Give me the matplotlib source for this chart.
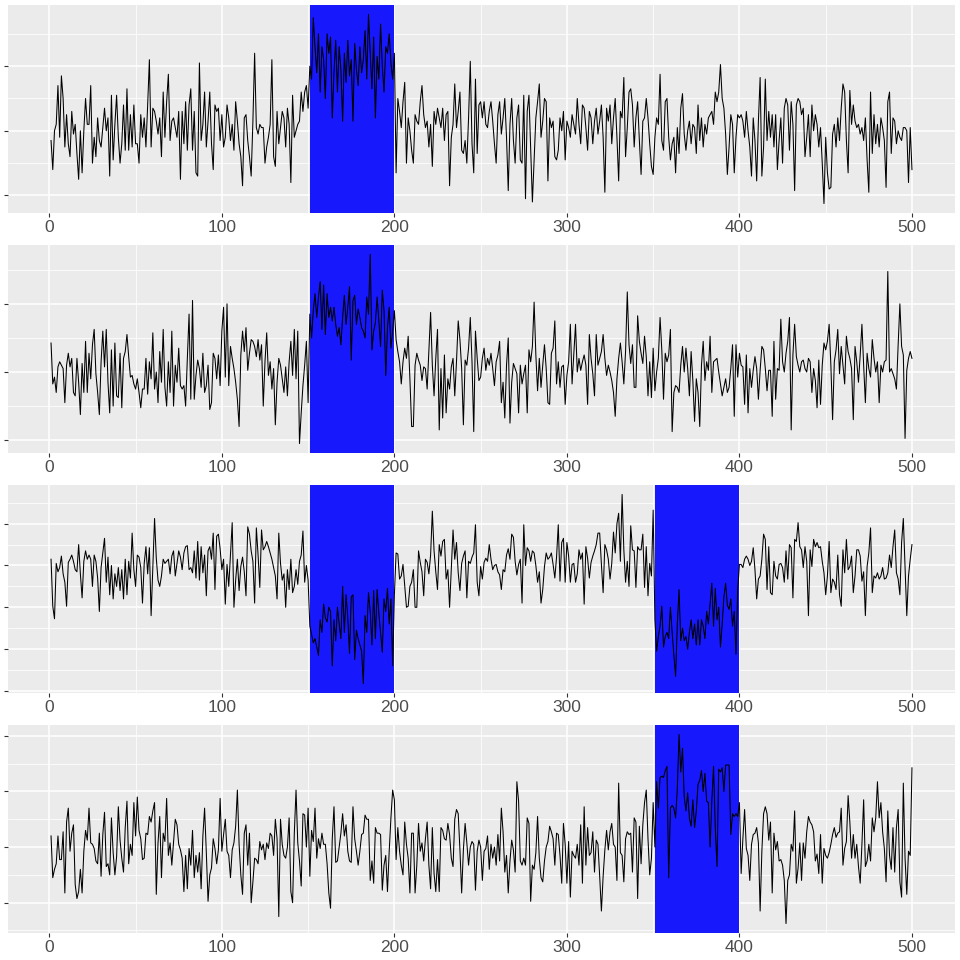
#!/usr/bin/env python3
import numpy as np
import matplotlib
matplotlib.use("Agg")
import matplotlib.pyplot as plt
from matplotlib.ticker import MultipleLocator

# values (index 1..500)
series_1 = [
    -0.3, -1.2, 0.0, 0.2, 1.4, -0.2, 1.7, 1.0, -0.5, 0.5,
    -0.4, -0.8, 0.6, -0.1, 0.2, -0.7, -1.5, 0.0, -1.3, 0.0,
    1.0, 0.2, 0.2, 1.4, -1.0, -0.2, -0.8, 0.4, -0.3, -0.5,
    0.1, 0.7, 0.0, 0.4, -1.4, 1.1, -0.9, 0.2, 1.1, -0.2,
    -1.0, -0.4, 0.8, -0.6, 1.3, -0.6, 0.5, -0.5, 0.8, -0.4,
    -0.4, -1.0, 0.5, -0.2, 0.4, -0.5, 0.8, 2.2, -0.5, 0.7,
    0.6, 0.3, -0.1, 0.4, -0.8, 1.2, -0.2, 0.9, 1.75, -0.3,
    0.3, 0.4, 0.1, -0.2, 0.6, -1.5, 0.6, -0.4, 0.9, -0.6,
    0.8, 1.3, -0.6, 0.6, -1.3, -1.4, 2.1, -0.3, 0.2, 1.2,
    -0.5, 0.3, 1.2, -0.4, -1.2, 0.8, 0.6, 0.7, -0.3, 0.5,
    -0.5, -0.2, 0.8, 0.4, -0.3, 0.2, -0.6, 0.9, 0.3, -0.4,
    -0.8, -1.7, 0.4, 0.5, -0.3, -0.8, -1.4, 0.3, 2.4, 0.1,
    -0.1, 0.2, 0.1, 0.1, -1.0, -0.5, -0.2, 0.2, 2.2, -0.8,
    -1.1, 0.6, -0.4, 0.1, 0.6, 0.4, -0.5, 0.7, 0.2, -1.6,
    1.1, -0.2, 0.0, 0.2, 0.3, 1.2, 0.6, 1.2, 1.4, 0.7,
    2.0, 1.6, 3.5, 2.6, 1.8, 3.0, 1.2, 2.6, 2.2, 1.0,
    3.0, 2.4, 2.9, 0.4, 1.8, 2.8, 1.2, 2.6, 1.9, 0.3,
    2.4, 1.5, 2.8, 1.7, 2.2, 0.3, 2.7, 1.9, 1.4, 2.6,
    1.8, 2.2, 3.1, 1.6, 3.6, 2.4, 1.3, 2.9, 0.4, 2.3,
    1.6, 3.3, 2.0, 1.2, 2.6, 2.4, 3.0, 2.1, 1.6, 2.4,
    -1.3, 1.0, 0.6, 0.1, 0.9, 1.5, -1.0, 0.4, 0.0, -0.6,
    -1.0, 0.5, 0.3, 0.2, 0.9, 1.4, 0.5, 0.1, 0.3, -0.5,
    0.2, -1.1, 0.6, 0.2, 0.7, 0.4, 0.1, 0.7, -0.3, 0.5,
    0.6, -1.7, -0.2, 0.2, 1.45, 0.1, 0.6, 1.2, -0.6, -0.7,
    -0.3, -1.0, 0.4, 2.15, -0.4, -1.3, 1.6, -0.7, 0.8, 0.9,
    0.4, 0.9, 0.2, 0.1, 0.6, 0.9, 0.3, -0.4, -1.0, 0.5,
    0.9, -0.1, 0.4, 1.0, -0.2, -1.85, 0.2, 1.0, -0.3, -1.0,
    0.4, 0.8, -0.9, -1.0, 1.1, -2.1, 0.6, 1.1, -0.5, -2.2,
    -0.9, 0.4, 0.9, 1.45, -0.2, 0.3, 1.0, 0.9, -1.55, 0.4,
    0.1, 0.3, -0.8, -0.9, -0.6, 0.4, 0.0, 0.6, -0.9, 0.3,
    0.1, -0.2, 0.5, 0.2, -0.1, 1.0, 0.2, -0.4, 0.8, 0.7,
    0.1, -0.6, 0.6, 0.4, -0.4, 0.3, 0.7, -0.1, 0.3, 0.8,
    -0.2, -1.9, 0.7, 0.3, 0.8, -0.4, 0.4, 1.0, -0.2, -1.55,
    0.6, 0.4, 1.65, -0.8, 0.1, 1.2, 1.3, 0.8, -0.5, 0.4,
    0.9, -0.3, -1.35, 0.3, 0.4, 1.0, 0.4, -0.4, -1.1, -1.35,
    -0.2, 0.4, 0.2, 1.75, -0.3, -0.6, 0.9, 1.0, -0.2, -0.9,
    -0.4, -0.2, -1.3, 0.1, -0.7, 0.7, 1.15, -0.1, -0.6, 0.0,
    0.3, -0.4, 0.2, 0.1, -0.7, 0.8, -0.3, 0.4, -0.5, 0.2,
    -0.1, 0.4, 0.5, 0.6, 0.2, 1.2, 0.9, 1.2, 2.05, 1.0,
    0.7, -0.1, -1.35, -0.5, 0.5, 0.2, -1.3, -0.2, 0.5, 0.4,
    0.5, 0.3, -0.2, 0.6, 0.0, -0.5, -1.4, 0.4, -0.3, -1.55,
    0.3, 1.65, -1.4, -0.5, 1.6, -0.3, 0.6, -0.2, 0.5, -0.5,
    0.5, -1.2, -0.3, 0.4, -1.0, 0.7, 1.0, 0.8, -0.6, 0.9,
    0.2, -1.85, 0.8, 1.0, 0.9, 0.5, 0.7, -0.8, -0.2, 0.5,
    -0.8, 0.8, 0.0, 0.5, 0.2, -0.5, 0.1, -1.0, -2.25, -0.2,
    -1.3, -1.8, -1.75, -0.1, 0.2, -0.5, 0.4, -0.3, 0.7, 1.45,
    1.2, -0.3, -1.3, 1.25, 0.2, 0.8, 0.3, 0.1, 0.2, -0.1,
    0.1, -0.3, 0.4, -0.9, -1.9, 1.2, -0.7, 0.5, -0.4, 0.2,
    -0.5, 0.4, 0.1, -0.3, -1.75, 0.9, 1.2, -0.7, 0.4, 0.3,
    -0.4, 0.0, -0.2, -0.3, 0.1, 0.1, 0.0, -1.6, 0.1, -1.2,
]

series_2 = [
    0.85, -0.35, -0.15, -0.6, 0.15, 0.3, 0.2, 0.1, -0.9, 0.2,
    0.55, 0.15, 0.4, -0.6, -0.7, 0.4, -0.3, -1.25, 0.25, -0.6,
    0.9, -0.6, 0.55, -0.2, 0.8, 1.25, -0.05, -0.6, -1.25, 0.3,
    1.2, 0.15, 1.25, -0.3, -1.2, 0.65, -1.0, 0.85, -0.7, -0.75,
    0.55, -1.05, 0.4, 0.6, 1.1, 0.45, -0.15, -0.1, -0.35, -0.5,
    -0.2, -0.6, -1.05, -0.5, -0.5, 0.4, -0.65, 0.3, -0.2, 1.15,
    -0.5, 0.0, -0.9, 0.6, -0.3, 1.25, -0.45, -1.0, 0.3, -0.6,
    1.2, -1.0, 0.2, -0.3, 0.7, -0.4, -0.5, -0.4, -1.0, 0.4,
    1.7, -0.8, 2.1, -0.8, -0.1, 0.35, 0.1, -0.45, 0.55, -0.6,
    -0.4, 0.2, -1.1, -0.9, 0.55, 0.4, -0.2, 0.5, -0.4, 1.2,
    1.9, -0.15, 2.0, -0.4, 0.75, 0.4, 0.1, -0.3, -0.8, -1.6,
    0.5, 1.2, 0.6, 1.3, 0.05, 0.55, 0.95, 0.9, 0.75, 0.45,
    0.95, 0.35, 0.8, -1.0, 0.3, 1.15, -0.1, 0.3, -0.5, 0.1,
    -1.55, -0.3, 0.4, 0.2, -0.2, -0.6, 0.15, -0.7, 0.3, 0.9,
    -0.1, 1.25, -0.2, 1.2, -2.1, -1.2, -0.4, 0.2, 0.9, -0.9,
    1.7, 1.0, 1.8, 2.3, 1.6, 2.2, 2.65, 1.25, 2.55, 1.1,
    2.3, 1.6, 1.9, 1.5, 1.9, 1.4, 1.05, 1.3, 0.8, 1.6,
    2.25, 1.4, 1.9, 2.5, 0.35, 2.1, 2.25, 1.4, 1.85, 1.6,
    1.3, 1.2, 1.0, 2.2, 1.7, 3.45, 0.65, 1.2, 1.45, 2.2,
    1.5, 0.75, 2.4, 1.8, -0.1, 1.3, 1.9, 0.7, 1.2, 1.8,
    0.95, 0.6, 0.3, -0.35, 0.3, 0.7, 0.4, 1.05, -0.2, -1.6,
    -1.6, 0.2, 0.55, 0.35, 0.2, -0.25, 0.15, 0.1, -0.5, 0.6,
    1.75, 0.2, -0.7, 0.4, 1.25, -1.7, 0.1, -1.35, 0.5, -1.2,
    -0.2, -0.5, 0.15, 0.4, -0.7, 0.3, 1.5, 0.95, 0.1, -1.55,
    0.35, 0.2, 0.7, 1.6, 0.3, -1.75, 1.2, 0.4, -0.25, -0.15,
    0.4, 0.7, 0.05, 0.4, 0.2, 0.55, 0.1, -0.4, 0.3, 0.5,
    0.9, -0.9, -0.3, -1.35, 0.2, 1.0, -1.5, -0.3, 0.25, 0.1,
    -0.05, -1.2, 0.2, -0.35, -0.05, 0.2, -1.2, 0.65, 0.3, 0.75,
    2.05, 0.5, -0.55, 0.4, -0.45, 0.2, 0.8, 0.1, -0.9, -0.95,
    0.55, 0.7, 1.5, -0.35, 0.3, -0.45, 0.15, 0.2, -0.95, -0.1,
    0.3, 1.4, -0.35, 0.5, 1.4, 0.0, 0.4, 0.05, 0.3, 0.5,
    0.2, -0.95, 1.1, 0.4, -0.05, -0.7, 1.1, 0.2, 0.4, 0.6,
    1.1, 0.4, -0.1, 0.2, 0.0, -0.25, -0.6, -1.3, -0.2, 0.4,
    0.85, 0.3, -0.35, 0.6, 2.35, 0.8, 0.25, 0.8, -0.45, -0.45,
    1.65, 0.9, 0.55, 0.25, 1.05, 0.45, -0.7, 0.3, -0.75, 0.7,
    -0.55, 0.0, 0.4, 1.6, 0.65, -0.8, 0.55, 0.3, 0.5, 1.25,
    -1.75, -0.6, -0.4, -0.45, -0.6, 0.2, 0.75, 0.0, 0.7, 0.1,
    -0.7, 0.6, -0.25, -1.45, -0.2, -0.6, -1.6, 0.2, 0.9, -0.25,
    0.3, 0.05, 1.05, -0.6, 0.3, 0.35, 0.4, 0.0, -0.35, -0.7,
    -0.45, -0.2, -0.6, -0.45, 0.1, 0.8, -1.3, 0.8, -0.15, 0.55,
    0.2, 0.15, -0.95, 0.5, -1.2, 0.1, -0.45, 0.05, 0.45, 0.1,
    -0.8, 0.05, 0.75, 0.65, 0.1, -0.55, 0.05, 0.05, -1.3, 0.9,
    -0.8, 0.1, 0.05, 1.55, 0.3, 0.0, 0.55, 0.9, 1.6, -1.7,
    0.5, 1.4, 0.45, 0.2, 0.0, 0.3, 0.35, 0.1, 0.0, 0.4,
    0.3, -0.6, 0.1, -0.25, -1.05, 0.35, -0.95, 0.2, 0.85, 0.65,
    0.9, 1.4, 0.2, -1.4, 0.3, 0.65, 1.25, -0.05, 0.75, 0.2,
    -0.35, 1.05, 0.6, 0.4, 0.1, -1.4, 0.75, 0.3, -0.3, 0.5,
    1.4, 0.2, -0.9, 0.55, 0.1, -0.15, 0.95, 0.4, 0.0, 0.3,
    -0.9, 0.2, 0.0, 0.3, 0.35, 2.95, 0.0, 0.1, -0.05, -0.2,
    -0.5, 0.8, 2.0, 0.75, 0.5, -1.95, 0.05, 0.4, 0.6, 0.4,
]

series_3 = [
    0.3, -1.95, -2.55, 0.1, -0.3, -0.1, 0.45, -0.4, -0.8, -1.95,
    0.15, 0.3, 0.5, 0.2, -0.2, -0.3, 1.0, -0.4, -1.55, 0.2,
    0.7, 0.3, 0.5, 0.3, -1.0, 0.5, 0.2, -0.6, -2.2, -0.1,
    0.6, 1.3, -0.8, 0.4, -1.4, 0.0, -1.6, -0.4, -1.0, -0.1,
    -1.2, -0.2, -1.6, 0.3, -1.4, 0.2, -0.6, 1.55, -0.2, -1.0,
    0.5, 0.4, -0.1, -1.8, 0.1, 0.9, -0.4, 0.85, -2.4, 0.0,
    2.25, 0.35, -0.7, -1.0, -0.5, 0.3, 0.1, 0.2, 0.3, -0.4,
    0.45, 0.7, -0.5, 0.1, 0.7, 0.4, -0.2, 0.6, 0.9, 0.95,
    -0.2, -0.1, -0.35, 0.7, -0.6, 1.15, -0.7, 0.9, -0.35, 0.5,
    -1.45, 0.7, 0.9, 0.3, 1.55, -1.15, 1.4, 1.5, 0.8, -0.2,
    0.3, -1.85, 0.05, -1.0, 0.5, 2.05, -2.0, -0.7, 0.3, -1.2,
    -0.05, 0.4, -0.3, -1.45, 1.85, 1.5, 0.7, 0.2, -1.8, 1.8,
    0.5, -1.05, 1.7, 0.75, 0.9, 1.15, 0.9, 0.6, 0.3, -0.1,
    -0.5, -1.6, 1.55, 0.1, -0.7, -0.4, -2.0, -0.2, -1.15, 0.3,
    -1.3, -1.0, -0.2, -0.9, 0.2, 0.5, 1.65, -0.8, 0.0, -0.7,
    -2.9, -3.3, -3.7, -3.5, -3.9, -4.3, -2.6, -3.2, -1.85, -2.5,
    -2.7, -2.0, -2.2, -4.8, -2.6, -3.6, -2.0, -2.8, -3.5, -1.0,
    -3.2, -1.4, -2.5, -4.2, -1.5, -1.4, -4.5, -3.1, -3.5, -3.8,
    -4.1, -5.65, -2.4, -3.2, -1.3, -2.2, -3.8, -1.2, -3.5, -1.15,
    -2.3, -3.2, -4.15, -1.6, -2.2, -1.1, -2.8, -1.6, -4.8, -1.4,
    0.6, 0.55, -0.65, -0.5, 0.05, -1.0, -2.0, -1.95, -1.0, -0.8,
    -0.2, -2.0, -2.0, 0.7, 0.15, -0.3, -1.45, 0.3, 0.15, -0.4,
    0.5, 2.6, 0.7, -0.3, -1.15, 1.0, 0.45, 1.15, 1.25, -0.65,
    -0.2, -2.0, -0.2, 1.7, 0.3, 1.1, -0.35, -1.2, 0.1, 0.45,
    0.7, -1.55, 0.2, 0.1, 0.4, 0.6, 1.95, -0.8, -1.45, -0.05,
    -0.65, 0.15, 0.35, 0.2, 1.0, 0.3, -0.2, 0.0, 0.05, -0.3,
    -0.45, -1.15, -0.2, -0.3, 0.5, 0.8, 0.3, 1.5, 1.35, 0.2,
    -0.45, 0.05, 0.3, -1.8, 1.95, 0.0, 0.85, 0.7, 0.2, 0.7,
    0.6, 0.0, -0.8, -0.3, -1.8, -1.15, -0.05, 0.6, 0.3, 0.4,
    0.6, 0.05, -0.6, 0.4, 1.95, -0.75, 1.1, 1.3, -0.8, 1.1,
    0.45, -0.8, 0.05, 0.1, -0.8, -0.4, 0.75, 0.3, 0.6, -1.85,
    0.9, 0.35, -0.6, 0.15, 0.45, 0.7, 1.0, 1.55, 1.55, 0.05,
    -1.3, 1.0, 0.75, 0.3, -0.65, 0.1, 1.6, 0.6, 2.0, 2.5,
    0.2, 3.4, 0.75, -0.8, 0.2, -1.0, 1.9, 0.75, 0.7, -1.05,
    0.9, 0.75, 0.75, 1.5, -1.05, 0.9, -1.45, 0.1, -0.5, 2.65,
    -2.6, -4.1, -3.4, -2.9, -1.95, -3.9, -3.4, -3.2, -3.5, -2.0,
    -3.2, -4.3, -5.3, -2.8, -1.15, -3.6, -3.0, -3.6, -3.4, -4.0,
    -3.2, -2.6, -3.5, -2.8, -3.8, -2.6, -3.8, -2.6, -2.9, -3.5,
    -2.2, -2.8, -1.8, -0.85, -2.9, -1.1, -2.6, -2.0, -3.9, -2.8,
    -1.5, -0.85, -1.9, -2.1, -1.6, -2.9, -2.2, -4.25, -1.15, 0.05,
    0.05, -0.1, 0.3, 0.45, 0.3, 0.0, 0.2, 0.85, -0.2, -1.6,
    -0.65, -0.5, 0.3, 1.5, 1.25, -1.15, 0.9, -1.3, -1.4, 0.2,
    -0.5, -0.65, 0.05, 0.1, -0.1, -0.8, 0.7, -0.65, 1.0, 0.85,
    -1.55, 1.25, 1.15, 2.05, 0.9, 0.75, -0.1, 0.9, 0.2, -2.4,
    0.75, -0.05, 1.25, 0.9, 1.1, 0.85, 0.9, 0.2, -0.35, -1.4,
    -0.5, 1.15, -1.3, -0.65, -0.8, -1.15, 0.5, -1.4, -1.95, 0.75,
    -0.35, 1.25, -0.2, -0.05, 0.45, -1.3, -0.5, 0.75, 0.75, 0.45,
    -0.75, -0.3, -2.4, -0.05, 0.6, 1.8, -1.3, -0.5, -0.6, -0.35,
    -0.65, -0.5, -0.1, -0.65, -0.6, -0.35, 0.5, -0.1, 0.9, 1.7,
    -0.35, -0.65, -1.4, 1.1, 2.25, -0.1, -2.4, -0.5, 0.3, 1.0,
]

series_4 = [
    0.4, -1.1, -0.8, -0.6, 0.4, -0.45, -0.45, 0.55, -1.65, 0.9,
    1.4, -0.15, 0.5, 0.8, -1.35, -1.85, -1.6, -0.8, -1.65, -0.15,
    0.6, 0.25, 1.4, 0.15, 0.1, -0.05, -0.5, -0.6, 0.5, -1.05,
    0.45, 1.25, -0.7, -0.6, -1.0, 1.05, -0.2, -1.0, -0.35, 1.45,
    0.25, -0.4, -0.9, 0.7, 1.65, -0.6, 0.1, -0.3, 1.6, 0.4,
    1.8, 0.6, 0.3, -0.45, -0.4, 0.5, 0.45, 1.1, 0.9, 1.3,
    1.6, -1.7, 0.15, 1.1, -1.1, 0.5, 0.2, 1.75, -0.3, 0.15,
    -0.65, 0.2, 1.0, 0.8, 0.1, -0.1, -0.4, -1.6, -0.3, -1.5,
    -0.05, -0.65, 0.6, -1.1, -0.3, -0.9, -0.2, -1.5, 0.4, 1.4,
    -0.2, -1.95, -1.0, -0.75, 0.3, -0.05, -0.6, -0.1, 1.75, -0.15,
    0.45, 1.0, -0.15, -0.3, -1.1, -0.1, 0.15, 0.75, 2.05, 0.1,
    -1.0, -1.7, 0.5, 0.8, -0.65, 0.5, -2.0, -1.25, -0.4, -0.45,
    -0.6, 0.2, -0.1, 0.1, -0.45, 0.15, -0.05, 0.5, 0.4, -0.3,
    1.0, 0.3, -2.5, 1.0, 0.1, -0.3, -0.4, 0.0, 1.05, -1.6,
    -2.0, 0.5, 2.05, 0.15, -0.5, -1.4, 1.2, 1.15, 0.0, 1.4,
    -1.05, 0.6, 0.2, 1.4, -0.4, 0.3, -0.05, 0.5, 0.1, 0.1,
    -0.6, -1.65, -2.2, 0.3, 1.45, -0.55, -0.5, 0.0, 0.5, 1.2,
    0.4, 0.8, -0.15, -0.5, -0.55, 1.45, 0.3, -0.15, -0.65, -0.15,
    0.45, 0.5, 1.15, 1.0, 1.0, -1.2, -0.5, -1.3, 0.7, 0.5,
    0.5, 0.45, -1.55, -0.65, -0.3, -1.6, -0.15, 1.05, 2.05, 1.7,
    -0.45, 0.7, -0.15, -0.65, -1.0, 0.9, 0.1, -0.4, -1.65, 0.5,
    0.5, -1.65, -0.65, 0.85, -0.15, 0.15, -0.5, 0.3, 0.9, -0.65,
    -1.5, 0.7, -0.95, -1.6, -0.45, -1.6, 0.7, 0.6, 0.3, 0.25,
    0.85, 0.45, -0.4, -0.7, 1.0, 1.35, 1.2, -0.1, -1.65, -0.1,
    0.85, 0.15, -0.65, 0.0, 0.2, 0.1, -1.55, -0.15, 0.25, 0.0,
    -1.2, -0.15, -0.05, 0.4, -0.8, 0.1, -0.4, 0.0, -0.65, 0.45,
    -0.5, 1.4, 0.55, -0.9, -0.3, -1.65, -0.5, 0.25, -0.1, -0.9,
    2.35, 1.65, -0.5, -0.65, -0.4, -0.65, 1.05, 0.85, -1.95, -0.65,
    -0.8, -0.2, 1.1, -0.4, -1.1, -1.25, -0.5, 0.0, 0.2, 0.75,
    0.55, 0.3, -0.65, 0.5, 0.45, -0.3, -1.3, 0.85, 0.1, -1.3,
    0.2, -1.8, -0.15, -0.3, -0.4, 0.1, -0.65, 0.8, -1.3, 1.45,
    -0.65, 0.7, -0.3, -0.2, 0.55, -0.9, 0.25, 0.1, -1.05, -2.3,
    -1.05, -0.1, 0.6, -0.1, 0.55, 0.85, 0.1, 0.0, -1.2, 2.3,
    -0.2, -0.3, -1.25, 0.3, 0.55, 0.45, 0.5, -0.9, 1.05, 0.9,
    -1.85, 0.75, -0.6, 0.8, 1.6, 2.05, 0.3, -1.0, -0.4, 1.6,
    0.0, 2.35, 1.4, 2.5, 2.55, 2.5, 2.75, 2.9, -1.1, 1.4,
    1.5, 1.4, 1.05, 2.1, 4.05, 2.7, 3.55, 1.8, 1.3, 1.95,
    1.05, 0.75, 1.7, 0.7, 1.3, 2.25, 2.4, 2.75, 2.0, 2.65,
    1.65, 1.6, 0.0, 1.65, 2.9, 0.7, -0.7, 2.8, 2.7, 2.85,
    2.0, 2.95, 2.95, 2.95, 0.45, 1.2, 1.1, 1.2, 1.1, 1.6,
    -0.95, 0.3, 1.35, -0.05, -0.3, -1.2, 0.1, 0.45, 0.5, 0.7,
    0.15, -2.3, -0.15, 1.2, 1.45, 1.2, 0.25, 0.9, -1.65, 0.5,
    -0.1, 0.2, -0.5, -0.45, -0.65, -1.2, -2.75, -1.2, -1.0, 0.1,
    -0.15, 1.3, -1.3, -0.75, 0.15, -1.2, 0.15, -0.4, 0.55, 1.1,
    0.9, 0.8, 0.55, -0.5, -0.25, -0.95, 0.45, -1.3, -0.05, -0.3,
    -0.4, -0.2, 0.1, 0.45, 0.7, 0.35, 0.5, 0.55, 1.4, -0.65,
    -0.05, 0.2, 1.85, 0.9, -0.4, 0.45, -0.4, 0.1, -0.7, -1.3,
    0.1, 1.7, -0.7, -0.5, 0.1, -0.5, 1.05, 0.55, 1.05, 2.35,
    1.05, 1.6, 0.55, -0.05, -1.25, 1.3, -0.3, -0.8, 0.7, -0.9,
    0.7, 1.35, -1.25, -1.8, 2.3, -0.4, -1.7, -0.15, -0.3, 2.85,
]

all_series = [series_1, series_2, series_3, series_4]
# shaded change-point windows for each panel
windows = [[(151, 200)], [(151, 200)], [(151, 200), (351, 400)], [(351, 400)]]

fig = plt.figure(figsize=(9.6, 9.6), dpi=100)
plt.rcParams['font.family'] = ['Liberation Sans', 'DejaVu Sans']

left, width, height = 8 / 960, 947 / 960, 208 / 960
bottoms = [1 - 213 / 960, 1 - 453 / 960, 1 - 693 / 960, 1 - 933 / 960]

for vals, wins, b in zip(all_series, windows, bottoms):
    ax = fig.add_axes([left, b, width, height])
    ax.set_facecolor('#EBEBEB')
    y = np.array(vals)
    x = np.arange(1, len(y) + 1)
    for (x0, x1) in wins:
        ax.axvspan(x0, x1, color='#1818fd', lw=0, zorder=1)
    ax.plot(x, y, color='black', lw=0.75, zorder=2)
    ax.margins(x=0.05, y=0.05)

    ax.xaxis.set_major_locator(MultipleLocator(100))
    ax.xaxis.set_minor_locator(MultipleLocator(50))
    ax.yaxis.set_major_locator(MultipleLocator(2))
    ax.yaxis.set_minor_locator(MultipleLocator(1))
    ax.grid(which='major', color='white', lw=1.1, zorder=0)
    ax.grid(which='minor', color='white', lw=0.55, zorder=0)
    ax.set_axisbelow(True)
    for s in ax.spines.values():
        s.set_visible(False)
    ax.tick_params(which='major', length=2.7, width=0.8, color='#333333',
                   labelsize=12.5, labelcolor='#4D4D4D', pad=2)
    ax.tick_params(which='minor', length=0)
    ax.tick_params(axis='y', labelleft=False)

fig.savefig('out.png', dpi=100)
